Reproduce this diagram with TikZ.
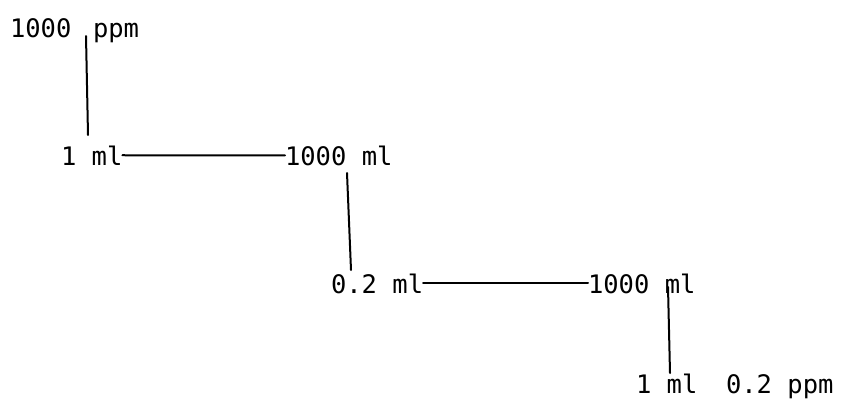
\documentclass[tikz,border=0pt]{standalone}
\usepackage{fontspec}
\setmonofont{DejaVu Sans Mono}
\begin{document}
\begin{tikzpicture}[x=1pt,y=-1pt,
  lbl/.style={anchor=base west,inner sep=0pt,outer sep=0pt,
    font=\ttfamily\fontsize{25.5}{30}\selectfont},
  link/.style={line width=2pt,line cap=round}]
\useasboundingbox (0,0) rectangle (846,407);

% stock solution
\node[lbl] (stock) at (10,37) {1000};
\node[lbl] (stockunit) at (93,37) {ppm};
% first dilution
\node[lbl] (takeA) at (61,165) {1 ml};
\node[lbl] (flaskA) at (285,165) {1000 ml};
% second dilution
\node[lbl] (takeB) at (331,293) {0.2 ml};
\node[lbl] (flaskB) at (588,293) {1000 ml};
% final aliquot
\node[lbl] (takeC) at (636,393) {1 ml};
\node[lbl] (final) at (726,393) {0.2 ppm};

\coordinate (s1) at (86,36);  \coordinate (e1) at (88,135);
\coordinate (s2) at (347,173); \coordinate (e2) at (351,270);
\coordinate (s3) at (668,287); \coordinate (e3) at (670,373);

\draw[link] (s1) -- (e1);
\draw[link] (takeA.east) -- (flaskA.west);
\draw[link] (s2) -- (e2);
\draw[link] (takeB.east) -- (flaskB.west);
\draw[link] (s3) -- (e3);
\end{tikzpicture}
\end{document}
